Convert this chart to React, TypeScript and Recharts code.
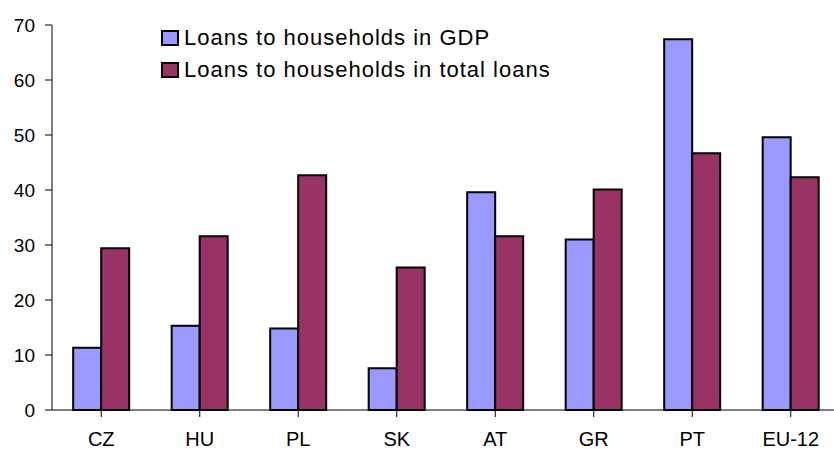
import React from 'react';
import { BarChart, Bar, XAxis, YAxis } from 'recharts';

const countries = ['CZ', 'HU', 'PL', 'SK', 'AT', 'GR', 'PT', 'EU-12'];
const loansInGdp = [11.3, 15.3, 14.8, 7.6, 39.6, 31.0, 67.4, 49.6];
const loansInTotal = [29.4, 31.6, 42.7, 25.9, 31.6, 40.1, 46.7, 42.3];
const yTicks = [0, 10, 20, 30, 40, 50, 60, 70];

const seriesInfo = [
  { key: 'gdp', name: 'Loans to households in GDP', color: '#9999FF' },
  { key: 'total', name: 'Loans to households in total loans', color: '#993366' },
];

const data = countries.map((c, i) => ({
  country: c,
  gdp: loansInGdp[i],
  total: loansInTotal[i],
}));

const FONT = '"Liberation Sans", Arial, sans-serif';

// legend drawn over the plot, like the original
const LegendBox = () => (
  <div style={{ position: 'absolute', left: 161, top: 22, fontFamily: FONT }}>
    {seriesInfo.map((s) => (
      <div key={`lg-${s.key}`} style={{ display: 'flex', alignItems: 'center', height: 32 }}>
        <span
          style={{
            width: 14,
            height: 12,
            background: s.color,
            border: '2px solid #000',
            marginRight: 5,
            display: 'inline-block',
          }}
        />
        <span style={{ fontSize: 22, letterSpacing: 1, color: '#000', lineHeight: '32px' }}>{s.name}</span>
      </div>
    ))}
  </div>
);

export default function App() {
  return (
    <div
      style={{
        position: 'absolute',
        left: 0,
        top: 0,
        width: 834,
        height: 449,
        overflow: 'hidden',
        background: '#fff',
      }}
    >
      <BarChart
        width={840}
        height={449}
        data={data}
        margin={{ top: 25, right: 0, left: 0, bottom: 0 }}
        barCategoryGap="21.5%"
        barGap={0}
      >
        <XAxis
          dataKey="country"
          height={39}
          tickSize={7}
          tickMargin={15}
          axisLine={{ stroke: '#000', strokeWidth: 1 }}
          tickLine={{ stroke: '#000' }}
          tick={{ fill: '#000', fontSize: 20, fontFamily: FONT }}
        />
        <YAxis
          width={52}
          domain={[0, 70]}
          ticks={yTicks}
          interval={0}
          tickSize={7}
          tickMargin={10}
          axisLine={{ stroke: '#000', strokeWidth: 1 }}
          tickLine={{ stroke: '#000' }}
          tick={{ fill: '#000', fontSize: 19, fontFamily: FONT }}
        />
        {seriesInfo.map((s) => (
          <Bar
            key={s.key}
            dataKey={s.key}
            name={s.name}
            fill={s.color}
            stroke="#000"
            strokeWidth={2}
            isAnimationActive={false}
          />
        ))}
      </BarChart>
      <LegendBox />
    </div>
  );
}
